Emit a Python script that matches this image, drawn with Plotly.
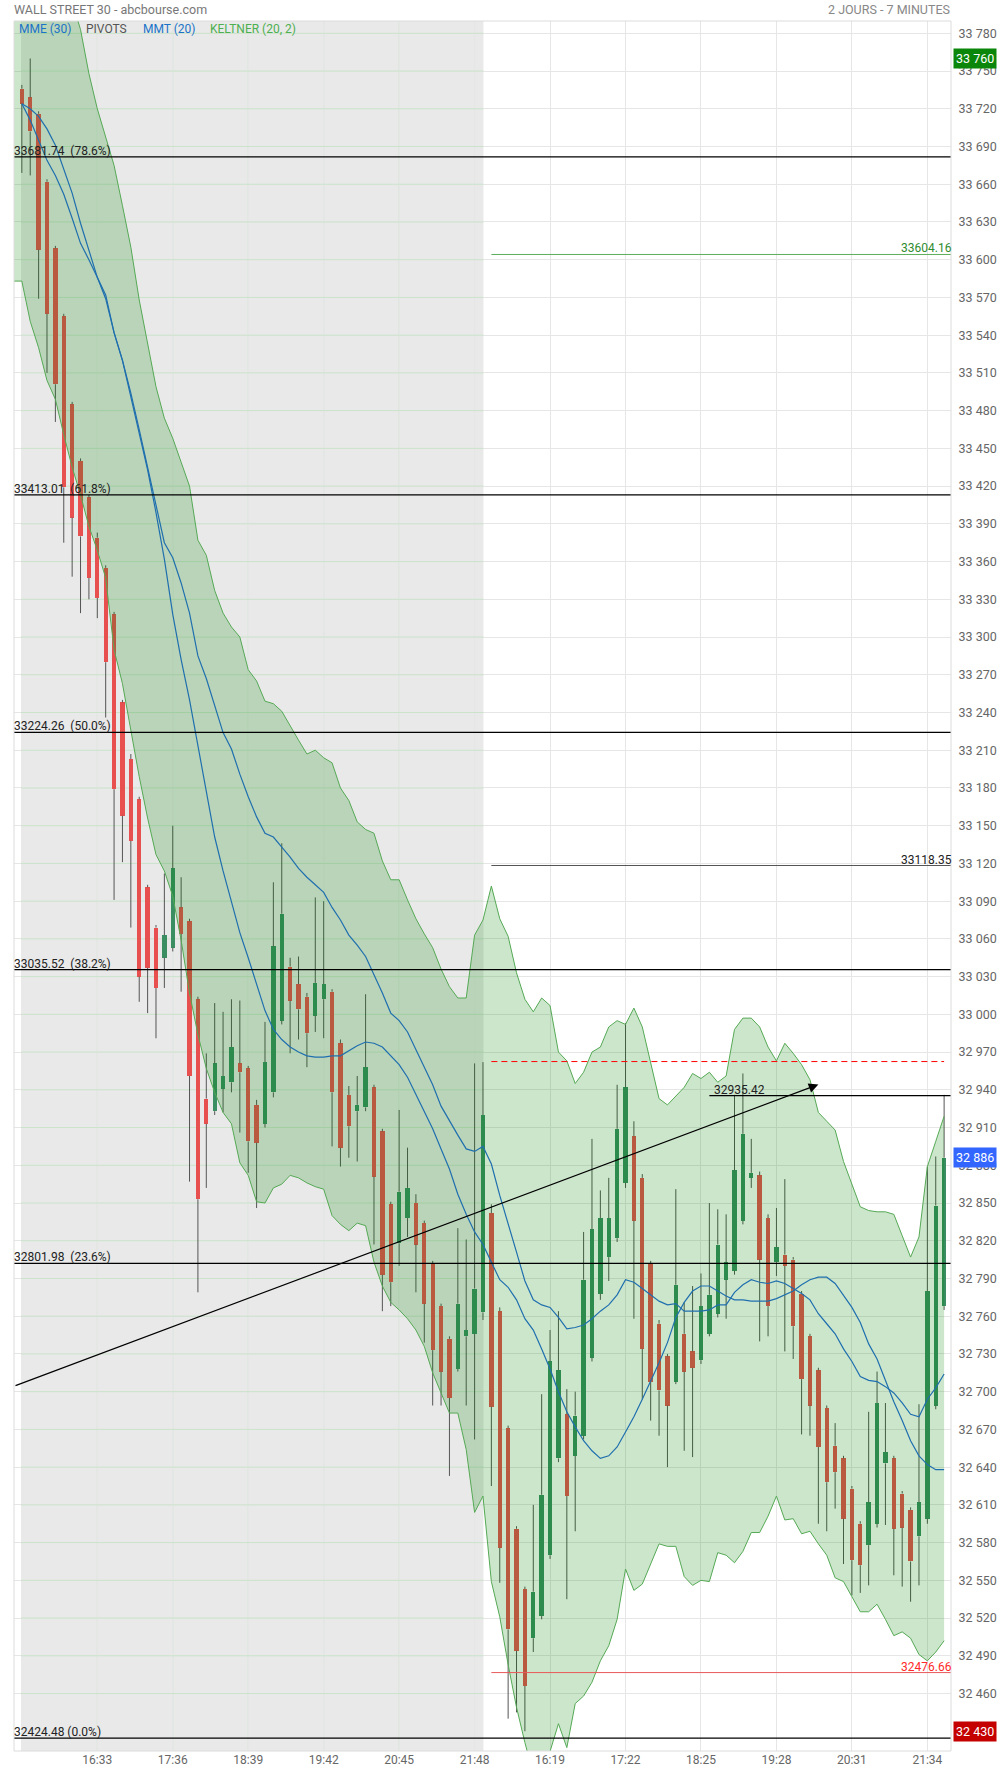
import plotly.graph_objects as go

# ---------------- data (7-minute bars, index 0 = day-1 15:30, index 56 = day-2 15:30) ----------------
opens = [33736, 33729, 33716, 33662, 33609, 33555, 33485, 33440, 33411, 33379,
         33355, 33318, 33248, 33203, 33171, 33101, 33069, 33045, 33053, 33085,
         33074, 33012, 32933, 32923, 32941, 32946, 32961, 32957, 32928, 32913,
         32938, 32995, 33038, 33024, 33014, 32999, 33012, 33018, 32977, 32936,
         32923, 32926, 32942, 32907, 32849, 32818, 32838, 32850, 32834, 32802,
         32768, 32742, 32718, 32744, 32746, 32763, 32842, 32764, 32671, 32591,
         32543, 32504, 32522, 32570, 32647, 32682, 32649, 32665, 32727, 32778,
         32807, 32822, 32866, 32903, 32870, 32802, 32754, 32728, 32708, 32746,
         32732, 32725, 32746, 32762, 32789, 32796, 32836, 32870, 32872, 32838,
         32803, 32809, 32805, 32778, 32744, 32717, 32687, 32657, 32647, 32623,
         32595, 32578, 32595, 32643, 32647, 32619, 32606, 32585, 32599, 32689, 32768]
highs = [33739, 33760, 33718, 33664, 33611, 33557, 33487, 33442, 33413, 33383,
         33357, 33320, 33250, 33207, 33173, 33103, 33071, 33112, 33150, 33109,
         33076, 33014, 32969, 33009, 33002, 33012, 33011, 32959, 32932, 32994,
         33105, 33136, 33045, 33046, 33017, 33093, 33090, 33020, 32980, 32943,
         32951, 33016, 32944, 32909, 32851, 32924, 32894, 32857, 32836, 32804,
         32770, 32744, 32830, 32821, 32961, 32962, 32849, 32767, 32673, 32593,
         32545, 32610, 32698, 32749, 32764, 32702, 32700, 32827, 32901, 32860,
         32870, 32944, 32993, 32915, 32873, 32804, 32757, 32730, 32861, 32771,
         32784, 32794, 32850, 32845, 32841, 32936, 32953, 32901, 32875, 32841,
         32846, 32869, 32807, 32780, 32746, 32719, 32689, 32675, 32649, 32625,
         32597, 32684, 32716, 32691, 32649, 32621, 32608, 32690, 32879, 32887, 32936]
lows = [33669, 33667, 33569, 33510, 33471, 33375, 33348, 33319, 33330, 33315,
        33236, 33091, 33121, 33069, 33010, 33001, 32981, 33021, 33050, 33018,
        32867, 32779, 32862, 32920, 32922, 32938, 32906, 32874, 32846, 32910,
        32934, 32992, 32969, 32980, 32958, 32986, 32981, 32895, 32879, 32886,
        32883, 32923, 32817, 32764, 32768, 32800, 32823, 32779, 32739, 32689,
        32689, 32633, 32716, 32689, 32662, 32757, 32625, 32548, 32440, 32445,
        32430, 32493, 32519, 32567, 32644, 32535, 32589, 32662, 32724, 32773,
        32788, 32819, 32862, 32758, 32694, 32677, 32665, 32640, 32706, 32653,
        32648, 32722, 32744, 32759, 32758, 32793, 32833, 32862, 32740, 32744,
        32792, 32732, 32726, 32666, 32665, 32595, 32589, 32607, 32563, 32538,
        32540, 32546, 32592, 32594, 32554, 32545, 32533, 32546, 32595, 32686, 32765]
closes = [33724, 33702, 33608, 33557, 33501, 33419, 33395, 33380, 33347, 33331,
          33280, 33179, 33158, 33138, 33030, 33037, 33021, 33063, 33116, 33064,
          32951, 32853, 32913, 32961, 32951, 32974, 32954, 32899, 32898, 32962,
          33054, 33080, 33011, 33004, 32985, 33025, 33024, 32938, 32894, 32911,
          32928, 32958, 32871, 32793, 32787, 32859, 32862, 32817, 32770, 32733,
          32716, 32695, 32770, 32749, 32782, 32920, 32688, 32576, 32511, 32494,
          32466, 32541, 32618, 32724, 32717, 32617, 32681, 32789, 32829, 32838,
          32838, 32909, 32942, 32836, 32734, 32708, 32701, 32689, 32785, 32716,
          32719, 32768, 32777, 32817, 32803, 32876, 32905, 32874, 32805, 32768,
          32815, 32800, 32752, 32710, 32689, 32656, 32628, 32636, 32599, 32566,
          32562, 32612, 32691, 32652, 32591, 32592, 32565, 32612, 32780, 32848, 32886]

# Keltner (20, 2) band, starting one bar before the first candle (index -1)
keltner_upper = [33960, 33950, 33930, 33905, 33880, 33855, 33830, 33805, 33783, 33748, 33720,
                 33698, 33675, 33643, 33610, 33568, 33532, 33499, 33474, 33458, 33439,
                 33420, 33377, 33365, 33337, 33319, 33308, 33300, 33274, 33265, 33249,
                 33247, 33241, 33229, 33218, 33207, 33210, 33204, 33200, 33180, 33170,
                 33153, 33147, 33144, 33122, 33107, 33107, 33091, 33076, 33064, 33053,
                 33036, 33022, 33013, 33013, 33063, 33075, 33102, 33076, 33062, 33033,
                 33012, 33002, 33013, 33007, 32970, 32963, 32945, 32954, 32970, 32974,
                 32990, 32995, 32992, 33005, 32990, 32962, 32933, 32928, 32935, 32942,
                 32953, 32949, 32954, 32946, 32951, 32988, 32997, 32997, 32990, 32974,
                 32963, 32977, 32969, 32960, 32948, 32922, 32915, 32908, 32883, 32865,
                 32847, 32844, 32843, 32843, 32841, 32824, 32807, 32823, 32879, 32899, 32919]
keltner_lower = [33583, 33583, 33551, 33530, 33504, 33489, 33461, 33435, 33413, 33388, 33369,
                 33347, 33290, 33263, 33226, 33189, 33156, 33127, 33114, 33094, 33059,
                 33017, 32984, 32957, 32938, 32922, 32913, 32882, 32872, 32851, 32850,
                 32862, 32865, 32872, 32870, 32866, 32863, 32861, 32840, 32833, 32828,
                 32834, 32832, 32803, 32784, 32771, 32765, 32758, 32749, 32736, 32715,
                 32699, 32683, 32683, 32654, 32604, 32617, 32549, 32521, 32483, 32449,
                 32421, 32396, 32394, 32414, 32436, 32417, 32452, 32458, 32469, 32486,
                 32498, 32519, 32559, 32542, 32547, 32563, 32579, 32577, 32577, 32553,
                 32546, 32550, 32549, 32572, 32570, 32564, 32573, 32588, 32588, 32601,
                 32617, 32598, 32599, 32587, 32589, 32579, 32570, 32552, 32549, 32537,
                 32525, 32525, 32531, 32519, 32506, 32509, 32504, 32491, 32486, 32493, 32502]

mme30 = [33724, 33720, 33714, 33704, 33691, 33672, 33653, 33629, 33607, 33586,
         33569, 33542, 33520, 33494, 33465, 33435, 33403, 33375, 33363, 33343,
         33319, 33285, 33267, 33245, 33224, 33211, 33191, 33173, 33157, 33144,
         33141, 33133, 33125, 33116, 33109, 33103, 33097, 33085, 33075, 33063,
         33055, 33046, 33032, 33017, 33001, 32995, 32986, 32972, 32959, 32944,
         32927, 32915, 32904, 32893, 32891, 32895, 32881, 32856, 32834, 32811,
         32788, 32773, 32769, 32767, 32759, 32750, 32751, 32753, 32758, 32764,
         32769, 32777, 32789, 32787, 32782, 32777, 32772, 32769, 32770, 32764,
         32764, 32764, 32765, 32769, 32769, 32779, 32785, 32789, 32787, 32786,
         32788, 32786, 32782, 32778, 32773, 32762, 32754, 32746, 32734, 32724,
         32712, 32709, 32708, 32704, 32699, 32691, 32682, 32680, 32694, 32703, 32714]
mmt20 = [33724, 33711, 33695, 33679, 33667, 33652, 33633, 33613, 33600, 33586,
         33572, 33542, 33520, 33491, 33462, 33433, 33399, 33362, 33318, 33282,
         33250, 33214, 33176, 33141, 33114, 33090, 33065, 33045, 33024, 33003,
         32988, 32980, 32974, 32970, 32967, 32966, 32966, 32967, 32967, 32971,
         32975, 32978, 32977, 32974, 32967, 32960, 32950, 32936, 32923, 32909,
         32893, 32877, 32857, 32841, 32827, 32817, 32803, 32789, 32783, 32773,
         32758, 32749, 32734, 32718, 32700, 32684, 32672, 32661, 32653, 32647,
         32649, 32656, 32668, 32680, 32694, 32708, 32723, 32739, 32759, 32771,
         32780, 32784, 32784, 32780, 32776, 32773, 32773, 32772, 32772, 32772,
         32774, 32777, 32780, 32785, 32789, 32791, 32791, 32786, 32777, 32767,
         32755, 32738, 32726, 32709, 32692, 32677, 32661, 32649, 32642, 32638, 32638]

x_tick_idx = [9, 18, 27, 36, 45, 54, 63, 72, 81, 90, 99, 108]
x_tick_text = ["16:33", "17:36", "18:39", "19:42", "20:45", "21:48",
               "16:19", "17:22", "18:25", "19:28", "20:31", "21:34"]

fib_values = [33681.74, 33413.01, 33224.26, 33035.52, 32801.98, 32424.48]
fib_labels = ["33681.74\u00a0 (78.6%)", "33413.01\u00a0 (61.8%)", "33224.26\u00a0 (50.0%)",
              "33035.52\u00a0 (38.2%)", "32801.98\u00a0 (23.6%)", "32424.48 (0.0%)"]

pivot_r1, pivot_p, prev_close, pivot_s1 = 33604.16, 33118.35, 32962.47, 32476.66
high_line_value, high_line_start = 32935.42, 82
trend_x = [-0.935, 95.0]
trend_y = [32704.4, 32944.2]

day1_first, day1_last, day2_first, day2_last = 0, 55, 56, 110
x_range = [-0.935, 110.82]
y_range = [32414.3, 33789.8]
y_tick_vals = list(range(32460, 33781, 30))

def fmt(v):
    v = int(round(v))
    return f"{v // 1000} {v % 1000:03d}"

y_tick_text = [fmt(v) for v in y_tick_vals]

# ---------------- colours ----------------
RED = "#e85050"
GREEN = "#3a8e62"
WICK = "#555555"
BAND_LINE = "#55a955"
BAND_FILL = "rgba(0,128,0,0.2)"
MA_COLOR = "#1f6fae"

n = len(opens)
idx = list(range(n))
band_idx = list(range(-1, n))

fig = go.Figure()

# wicks (drawn outside the body only)
wx, wy = [], []
for i, (o, h, l, c) in enumerate(zip(opens, highs, lows, closes)):
    top, bot = max(o, c), min(o, c)
    if h > top:
        wx += [i, i, None]; wy += [h, top, None]
    if l < bot:
        wx += [i, i, None]; wy += [bot, l, None]
fig.add_trace(go.Scatter(x=wx, y=wy, mode="lines", line=dict(color=WICK, width=1),
                         hoverinfo="skip"))

# bodies
bases = [min(o, c) for o, c in zip(opens, closes)]
heights = [max(abs(c - o), 1.0) for o, c in zip(opens, closes)]
colors = [GREEN if c >= o else RED for o, c in zip(opens, closes)]
fig.add_trace(go.Bar(x=idx, y=heights, base=bases, width=0.52,
                     marker=dict(color=colors, line=dict(width=0)), hoverinfo="skip"))

# Keltner band (semi-transparent, over the candles)
fig.add_trace(go.Scatter(x=band_idx, y=keltner_upper, mode="lines",
                         line=dict(color=BAND_LINE, width=1), hoverinfo="skip"))
fig.add_trace(go.Scatter(x=band_idx, y=keltner_lower, mode="lines", fill="tonexty",
                         fillcolor=BAND_FILL, line=dict(color=BAND_LINE, width=1),
                         hoverinfo="skip"))

# moving averages
fig.add_trace(go.Scatter(x=idx, y=mme30, mode="lines", line=dict(color=MA_COLOR, width=1.2),
                         hoverinfo="skip"))
fig.add_trace(go.Scatter(x=idx, y=mmt20, mode="lines", line=dict(color=MA_COLOR, width=1.2),
                         hoverinfo="skip"))

shapes = []
# previous-day shading
g0, g1 = day1_first - 0.1, day1_last + 0.05
shapes.append(dict(type="rect", xref="x", yref="paper", x0=g0, x1=g1, y0=0, y1=1,
                   fillcolor="#e9e9e9", line=dict(width=0), layer="below"))
# greenish grid inside the shaded area
for v in y_tick_vals:
    shapes.append(dict(type="line", xref="x", yref="y", x0=g0, x1=g1, y0=v, y1=v,
                       line=dict(color="#cbe3cb", width=1), layer="between"))
for t in x_tick_idx:
    if t <= day1_last:
        shapes.append(dict(type="line", xref="x", yref="paper", x0=t, x1=t, y0=0, y1=1,
                           line=dict(color="#cbe3cb", width=1), layer="between"))
# Fibonacci retracements
for v in fib_values:
    shapes.append(dict(type="line", xref="paper", yref="y", x0=0, x1=1, y0=v, y1=v,
                       line=dict(color="#000000", width=1.2), layer="above"))
# pivots (day 2)
shapes.append(dict(type="line", xref="x", yref="y", x0=day2_first, x1=x_range[1],
                   y0=pivot_r1, y1=pivot_r1, line=dict(color="#5cae5c", width=1), layer="above"))
shapes.append(dict(type="line", xref="x", yref="y", x0=day2_first, x1=x_range[1],
                   y0=pivot_p, y1=pivot_p, line=dict(color="#555555", width=1), layer="above"))
shapes.append(dict(type="line", xref="x", yref="y", x0=day2_first, x1=day2_last,
                   y0=prev_close, y1=prev_close,
                   line=dict(color="#ff0000", width=1, dash="6px,4px"), layer="above"))
shapes.append(dict(type="line", xref="x", yref="y", x0=day2_first, x1=x_range[1],
                   y0=pivot_s1, y1=pivot_s1, line=dict(color="#e85a5a", width=1), layer="above"))
shapes.append(dict(type="line", xref="x", yref="y", x0=high_line_start, x1=x_range[1],
                   y0=high_line_value, y1=high_line_value,
                   line=dict(color="#000000", width=1.2), layer="above"))
# plot frame
shapes.append(dict(type="rect", xref="paper", yref="paper", x0=0, x1=1, y0=0, y1=1,
                   line=dict(color="#dcdcdc", width=1), layer="above"))

ann = []
FONT = "Roboto, 'Open Sans', sans-serif"
for v, t in zip(fib_values, fib_labels):
    ann.append(dict(xref="paper", yref="y", x=0, y=v, text=t, showarrow=False,
                    xanchor="left", yanchor="bottom", yshift=-3, xshift=-2,
                    font=dict(family=FONT, size=12, color="#222222")))
for v, col in [(pivot_r1, "#2e8b2e"), (pivot_p, "#222222"), (pivot_s1, "#ff2a2a")]:
    ann.append(dict(xref="paper", yref="y", x=1, y=v, text=f"{v:.2f}", showarrow=False,
                    xanchor="right", yanchor="bottom", yshift=-3, xshift=3,
                    font=dict(family=FONT, size=12, color=col)))
ann.append(dict(xref="x", yref="y", x=high_line_start, y=high_line_value,
                text=f"{high_line_value:.2f}", showarrow=False, xanchor="left",
                yanchor="bottom", xshift=3, yshift=-3,
                font=dict(family=FONT, size=12, color="#222222")))
# trend line with arrow
ann.append(dict(xref="x", yref="y", axref="x", ayref="y", x=trend_x[1], y=trend_y[1],
                ax=trend_x[0], ay=trend_y[0], text="", showarrow=True, arrowhead=2,
                arrowsize=1.6, arrowwidth=1.2, arrowcolor="#000000", standoff=0))
# price boxes on the right axis
period_high = max(highs)
period_low = min(lows)
last_close = closes[-1]
for v, bg in [(period_high, "#0a870a"), (last_close, "#3366ff"), (period_low, "#c40000")]:
    ann.append(dict(xref="paper", yref="y", x=1, y=v, text=fmt(v), showarrow=False,
                    xanchor="left", yanchor="middle", xshift=2, bgcolor=bg, borderpad=2,
                    font=dict(family=FONT, size=12.5, color="#ffffff")))
# headers
ann.append(dict(xref="paper", yref="paper", x=0, y=1, text="WALL STREET 30 - abcbourse.com",
                showarrow=False, xanchor="left", yanchor="middle", yshift=12, xshift=-2,
                font=dict(family=FONT, size=12.5, color="#777777")))
ann.append(dict(xref="paper", yref="paper", x=1, y=1, text="2 JOURS - 7 MINUTES",
                showarrow=False, xanchor="right", yanchor="middle", yshift=12, xshift=1,
                font=dict(family=FONT, size=12.5, color="#888888")))
legend_items = [("MME (30)", "#1a73c8", 3), ("PIVOTS", "#555555", 70),
                ("MMT (20)", "#1a73c8", 127), ("KELTNER (20, 2)", "#4caf50", 194)]
for t, col, dx in legend_items:
    ann.append(dict(xref="paper", yref="paper", x=0, y=1, text=t, showarrow=False,
                    xanchor="left", yanchor="middle", xshift=dx, yshift=-8,
                    font=dict(family=FONT, size=12, color=col)))

fig.update_layout(
    width=1000, height=1774,
    margin=dict(l=14, r=49, t=21, b=23, autoexpand=False),
    paper_bgcolor="white", plot_bgcolor="white",
    showlegend=False, bargap=0, barmode="overlay",
    font=dict(family=FONT, size=12, color="#666666"),
    shapes=shapes, annotations=ann,
)
fig.update_xaxes(range=x_range, tickvals=x_tick_idx, ticktext=x_tick_text,
                 showgrid=True, gridcolor="#e6e6e6", gridwidth=1, zeroline=False,
                 showline=False, ticks="", tickfont=dict(family=FONT, size=12, color="#666666"),
                 automargin=False, fixedrange=True)
fig.update_yaxes(side="right", range=y_range, tickvals=y_tick_vals, ticktext=y_tick_text,
                 showgrid=True, gridcolor="#e6e6e6", gridwidth=1, zeroline=False,
                 showline=False, ticks="outside", ticklen=4, tickcolor="rgba(0,0,0,0)",
                 tickfont=dict(family=FONT, size=12.5, color="#666666"),
                 automargin=False, fixedrange=True)

fig.write_html("out.html", config={"staticPlot": True},
               post_script="document.body.style.margin='0';document.body.style.overflow='hidden';")
